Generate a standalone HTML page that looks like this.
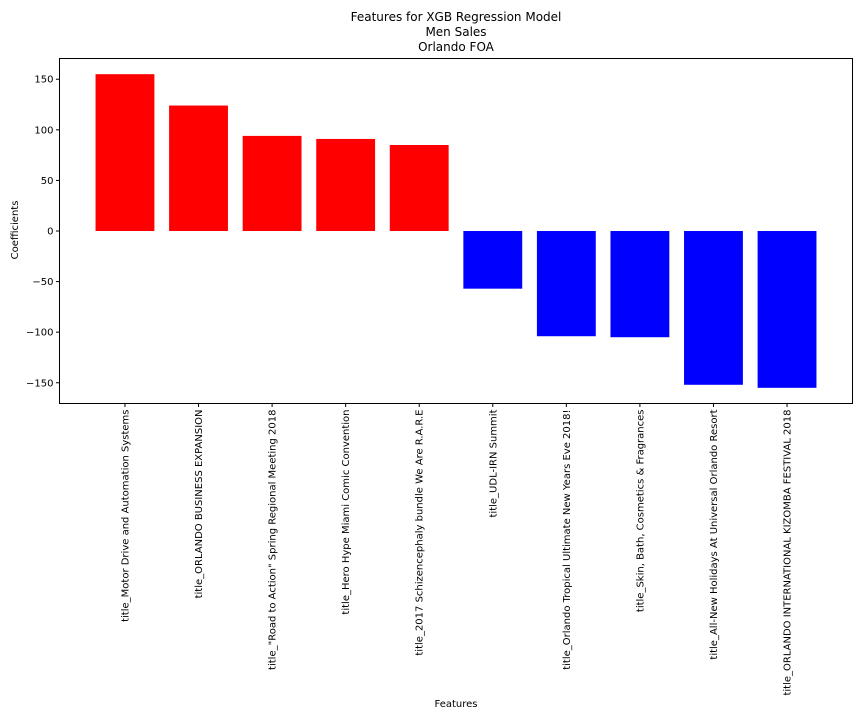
<!DOCTYPE html>
<html><head><meta charset="utf-8"><style>
body{margin:0;background:#fff;}
svg{font-family:"DejaVu Sans","Liberation Sans",sans-serif;}
</style></head><body>
<svg id="chart" width="864" height="720" xmlns="http://www.w3.org/2000/svg">
<rect width="864" height="720" fill="#fff"/>
<g font-size="12" text-anchor="middle" fill="#000">
<text x="456" y="21">Features for XGB Regression Model</text>
<text x="456" y="36">Men Sales</text>
<text x="456" y="51">Orlando FOA</text>
</g>
<g id="bars"></g>
<g id="yaxis"></g>
<g id="xaxis"></g>
<rect x="59.5" y="58.5" width="793" height="345" fill="none" stroke="#000" stroke-width="1"/>
<text x="456" y="707" font-size="10" text-anchor="middle">Features</text>
<text transform="translate(18,230) rotate(-90)" font-size="10" text-anchor="middle">Coefficients</text>
</svg>
<script>
const categories=["title_Motor Drive and Automation Systems","title_ORLANDO BUSINESS EXPANSION","title_\"Road to Action\" Spring Regional Meeting 2018","title_Hero Hype Miami Comic Convention","title_2017 Schizencephaly bundle We Are R.A.R.E","title_UDL-IRN Summit","title_Orlando Tropical Ultimate New Years Eve 2018!","title_Skin, Bath, Cosmetics & Fragrances","title_All-New Holidays At Universal Orlando Resort","title_ORLANDO INTERNATIONAL KIZOMBA FESTIVAL 2018"];
const values=[155,124,94,91,85,-57,-104,-105,-152,-155];
const yTicks=[150,100,50,0,-50,-100,-150];
const NS="http://www.w3.org/2000/svg";
const L=59.5,R=852.5,T=58.5,B=403.5;
const vmax=Math.max(...values.map(Math.abs));
const ymin=-vmax*1.1,ymax=vmax*1.1;
const n=categories.length,xmin=-0.4-0.049*(n-0.2)/0.98*1,xmax=n-1+0.4+0.049*(n-0.2)/0.98;
function x(i){return L+(i-xmin)/(xmax-xmin)*(R-L);}
function y(v){return B-(v-ymin)/(ymax-ymin)*(B-T);}
const bars=document.getElementById('bars'),xa=document.getElementById('xaxis'),ya=document.getElementById('yaxis');
function mk(t,a){const e=document.createElementNS(NS,t);for(const k in a)e.setAttribute(k,a[k]);return e;}
values.forEach((v,i)=>{
 const w=x(0.4)-x(-0.4);
 const r=mk('rect',{x:x(i)-w/2,y:Math.min(y(v),y(0)),width:w,height:Math.abs(y(v)-y(0)),fill:v>=0?'#ff0000':'#0000ff'});
 
 
 bars.appendChild(r);
 const tk=mk('line',{x1:x(i),x2:x(i),y1:B,y2:B+3.5,stroke:'#000'});
 
 
 xa.appendChild(tk);
 const t=mk('text',{transform:`translate(${x(i)+3.5},${B+6}) rotate(-90)`,'font-size':'10','text-anchor':'end'});
 t.textContent=categories[i];
 
 
 xa.appendChild(t);
});
yTicks.forEach(v=>{
 const tk=mk('line',{x1:L-3.5,x2:L,y1:y(v),y2:y(v),stroke:'#000'});
 
 
 ya.appendChild(tk);
 const t=mk('text',{x:L-6,y:y(v)+3.5,'font-size':'10','text-anchor':'end'});
 t.textContent=v<0?'\u2212'+Math.abs(v):String(v);
 
 
 ya.appendChild(t);
});
</script>
</body></html>
